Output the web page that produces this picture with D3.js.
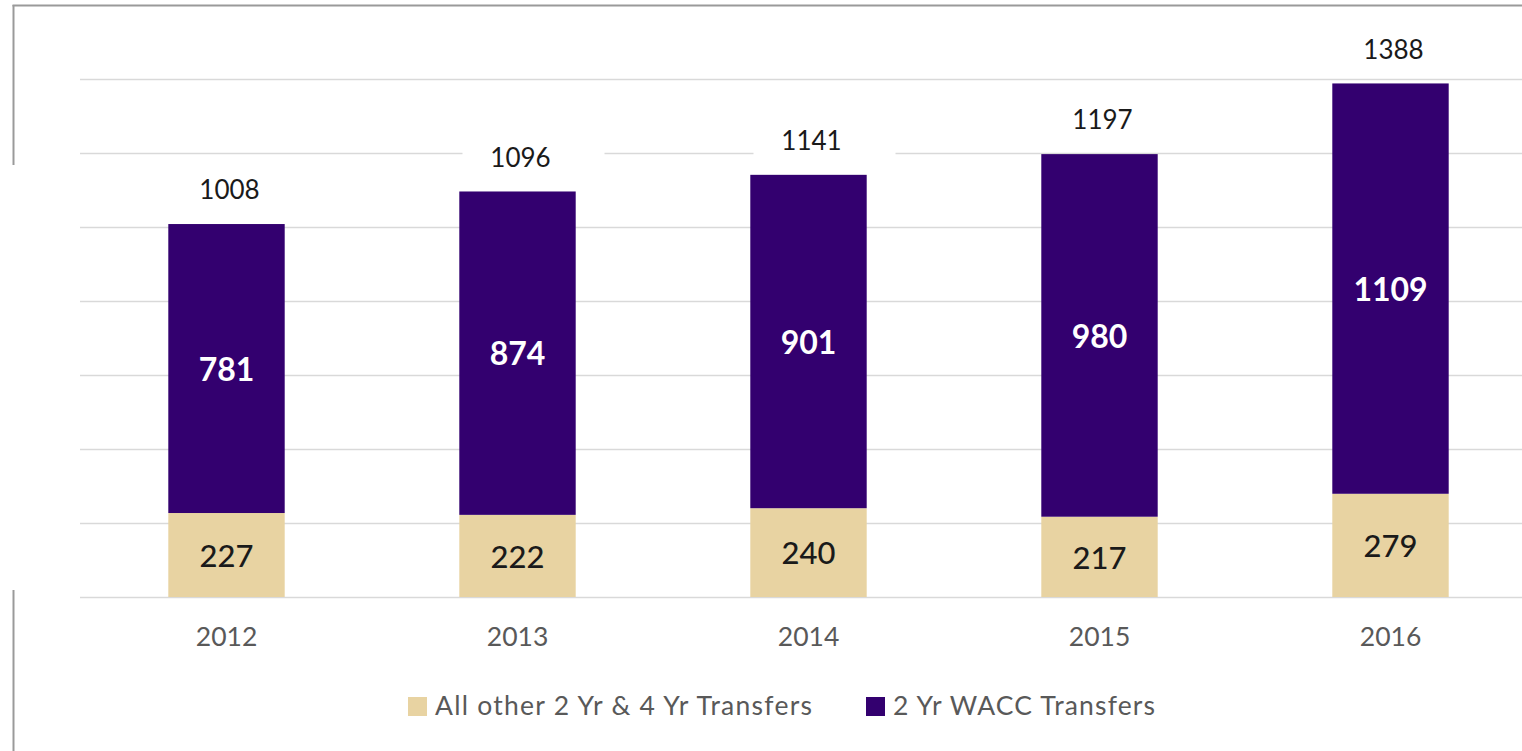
<!DOCTYPE html>
<html><head><meta charset="utf-8">
<script src="https://cdn.jsdelivr.net/npm/d3@7"></script>
<style>body{margin:0;background:#fff;}svg{display:block;}</style>
</head><body><svg id="c" width="1522" height="751"></svg>
<script>
const years = ["2012","2013","2014","2015","2016"];
const otherTransfers = [227,222,240,217,279];
const waccTransfers = [781,874,901,980,1109];
const totals = [1008,1096,1141,1197,1388];
const seriesNames = ["All other 2 Yr & 4 Yr Transfers","2 Yr WACC Transfers"];
const colors = ["#E8D3A2","#33006F"];
const gridTicks = [0,200,400,600,800,1000,1200,1400];

const svg = d3.select("#c");
const font = "Lato, 'Open Sans', sans-serif";

// frame
svg.append("line").attr("x1",12.5).attr("x2",1522).attr("y1",5.5).attr("y2",5.5).attr("stroke","#9a9a9a").attr("stroke-width",2);
svg.append("line").attr("x1",13.5).attr("x2",13.5).attr("y1",5).attr("y2",165).attr("stroke","#9a9a9a").attr("stroke-width",2);
svg.append("line").attr("x1",13.5).attr("x2",13.5).attr("y1",590).attr("y2",751).attr("stroke","#9a9a9a").attr("stroke-width",2);

const y = d3.scaleLinear().domain([0,1400]).range([597,79]);
const x = d3.scaleBand().domain(years).range([81,1536]).paddingInner(0.6).paddingOuter(0.3);

// gridlines
svg.append("g").selectAll("line").data(gridTicks).join("line")
  .attr("x1",80).attr("x2",1522)
  .attr("y1",d=>Math.round(y(d))+0.5).attr("y2",d=>Math.round(y(d))+0.5)
  .attr("stroke","#d9d9d9").attr("stroke-width",1.5);

const stackData = years.map((yr,i)=>({year:yr, other:otherTransfers[i], wacc:waccTransfers[i], total:totals[i]}));
const stack = d3.stack().keys(["other","wacc"])(stackData);

svg.append("g").selectAll("g").data(stack).join("g")
  .attr("fill",(d,i)=>colors[i])
  .selectAll("rect").data(d=>d).join("rect")
  .attr("x",d=>x(d.data.year)).attr("width",x.bandwidth())
  .attr("y",d=>y(d[1])).attr("height",d=>y(d[0])-y(d[1]));

// segment labels
stack.forEach((s,si)=>{
  svg.append("g").selectAll("text").data(s).join("text")
    .attr("x",d=>x(d.data.year)+x.bandwidth()/2)
    .attr("y",d=>(y(d[0])+y(d[1]))/2 + 1)
    .attr("dy","0.35em").attr("text-anchor","middle")
    .attr("font-family",font).attr("font-size",si===1 ? 32 : 31)
    .attr("font-weight", si===1 ? 700 : 500)
    .attr("fill", si===1 ? "#ffffff" : "#1a1a1a")
    .text(d=>si===0 ? d.data.other : d.data.wacc);
});

// total labels with white background
const tg = svg.append("g").selectAll("g").data(stackData).join("g")
  .attr("transform",d=>`translate(${x(d.year)+x.bandwidth()/2 + 3},${y(d.total)-34})`);
tg.append("rect").attr("x",-58).attr("y",-15).attr("width",142).attr("height",30).attr("fill","#fff");
tg.append("text").attr("text-anchor","middle").attr("dy","0.35em")
  .attr("font-family",font).attr("font-size",26).attr("fill","#1a1a1a")
  .text(d=>d.total);

// x axis labels
const xAxis = d3.axisBottom(x).tickSize(0).tickPadding(0);
const xg = svg.append("g").attr("transform","translate(0,637)").call(xAxis);
xg.select(".domain").remove();
xg.selectAll("text").attr("font-family",font).attr("font-size",26.5).attr("fill","#595959").attr("dy","0.35em").attr("y",0);

// legend
const legX = [408,866];
const legW = [377,262];
const lg = svg.append("g").selectAll("g").data(seriesNames).join("g")
  .attr("transform",(d,i)=>`translate(${legX[i]},706)`);
lg.append("rect").attr("x",0).attr("y",-9).attr("width",19).attr("height",19).attr("fill",(d,i)=>colors[i]);
lg.append("text").attr("x",27).attr("dy","0.35em").attr("font-family",font).attr("font-size",26.5).attr("fill","#595959")
  .attr("textLength",(d,i)=>legW[i]).attr("lengthAdjust","spacing").text(d=>d);
</script></body></html>
